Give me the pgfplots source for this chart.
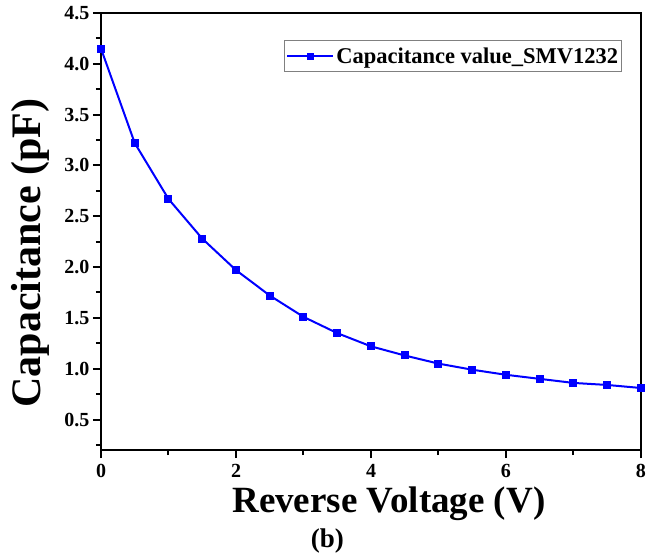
\documentclass[border=0pt]{standalone}
\usepackage{pgfplots}
\pgfplotsset{compat=1.18}
\usepackage{fontspec}
\setmainfont{Liberation Serif}
\begin{document}
\begin{tikzpicture}
\path[use as bounding box] (-101pt,-107pt) rectangle (554pt,450pt);
\begin{axis}[
  at={(0pt,0pt)}, anchor=south west,
  width=540pt, height=437pt, scale only axis,
  clip=false,
  xmin=0, xmax=8, ymin=0.2, ymax=4.5,
  xtick={0,2,4,6,8}, minor xtick={1,3,5,7},
  ytick={0.5,1.0,1.5,2.0,2.5,3.0,3.5,4.0,4.5},
  minor ytick={0.25,0.75,1.25,1.75,2.25,2.75,3.25,3.75,4.25},
  xtick pos=bottom, ytick pos=left,
  tick align=outside,
  major tick length=8pt, minor tick length=5pt,
  every tick/.style={black, line width=2pt},
  axis line style={line width=2.5pt},
  /pgf/number format/assume math mode=true,
  yticklabel style={/pgf/number format/fixed, /pgf/number format/precision=1, /pgf/number format/fixed zerofill},
  ticklabel style={font=\fontsize{20}{20}\selectfont\bfseries},
  xticklabel style={yshift=-3pt},
  xlabel={Reverse Voltage (V)},
  ylabel={Capacitance (pF)},
  xlabel style={font=\fontsize{37}{37}\selectfont\bfseries, at={(axis description cs:0.533,-0.122)}, anchor=center},
  ylabel style={font=\fontsize{42}{42}\selectfont\bfseries, at={(axis description cs:-0.13,0.451)}, anchor=center},
  legend style={at={(0.965,0.938)}, anchor=north east, draw=gray, line width=0.8pt,
    font=\fontsize{22.5}{22.5}\selectfont\bfseries, inner xsep=1.5pt, inner ysep=5pt},
  legend cell align=left,
  legend image code/.code={\draw[#1, mark repeat=2, mark phase=2, mark size=2.5pt] plot coordinates {(0pt,0pt) (23pt,0pt) (46pt,0pt)};},
]
\addplot[blue, line width=2pt, mark=square*, mark size=3pt, mark options={solid}]
coordinates {
(0,4.15) (0.5,3.22) (1,2.67) (1.5,2.28) (2,1.97) (2.5,1.72) (3,1.51) (3.5,1.35)
(4,1.22) (4.5,1.13) (5,1.05) (5.5,0.99) (6,0.94) (6.5,0.90) (7,0.86) (7.5,0.84) (8,0.81)
};
\addlegendentry{Capacitance value\_SMV1232}
\node[font=\fontsize{27}{27}\selectfont\bfseries, anchor=center] at (axis description cs:0.419,-0.208) {(b)};
\end{axis}
\end{tikzpicture}
\end{document}
